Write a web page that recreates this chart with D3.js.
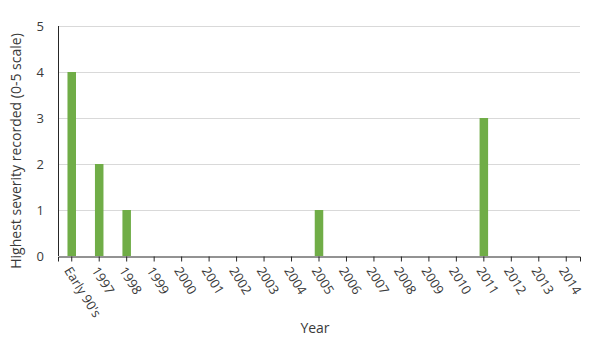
<!DOCTYPE html>
<html>
<head>
<script src="https://d3js.org/d3.v7.min.js"></script>
<style>
  body { margin: 0; background: #fff; }
  text { font-family: "Open Sans", "Liberation Sans", sans-serif; fill: #3a3a3a; }
</style>
</head>
<body>
<div id="chart"></div>
<script>
const years = ["Early 90's", "1997", "1998", "1999", "2000", "2001", "2002", "2003", "2004",
  "2005", "2006", "2007", "2008", "2009", "2010", "2011", "2012", "2013", "2014"];
const severity = [4, 2, 1, 0, 0, 0, 0, 0, 0, 1, 0, 0, 0, 0, 0, 3, 0, 0, 0];
const yTicks = [0, 1, 2, 3, 4, 5];

const W = 600, H = 342;
const plotLeft = 58, plotRight = 580, plotTop = 26, plotBottom = 256;

const svg = d3.select("#chart").append("svg")
  .attr("width", W).attr("height", H);

const x = d3.scaleBand().domain(years).range([plotLeft, plotRight]).paddingInner(0.69).paddingOuter(0.345);
const xc = d3.scaleBand().domain(years).range([plotLeft, plotRight]);
const y = d3.scaleLinear().domain([0, 5]).range([plotBottom, plotTop]);

// gridlines
svg.append("g").selectAll("line").data(yTicks.slice(1)).enter().append("line")
  .attr("x1", plotLeft).attr("x2", plotRight)
  .attr("y1", d => Math.round(y(d)) + 0.5).attr("y2", d => Math.round(y(d)) + 0.5)
  .attr("stroke", "#d9d9d9");

// y tick labels
svg.append("g").selectAll("text").data(yTicks).enter().append("text")
  .attr("x", 44).attr("y", d => y(d)).attr("dy", "0.35em")
  .attr("text-anchor", "end").style("font-size", "13px")
  .text(d => d);

// bars
svg.append("g").selectAll("rect").data(years).enter().append("rect")
  .attr("x", d => x(d))
  .attr("y", (d, i) => y(severity[i]))
  .attr("width", x.bandwidth())
  .attr("height", (d, i) => plotBottom - y(severity[i]))
  .attr("fill", "#70ad47");

// axes lines
svg.append("line").attr("x1", plotLeft + 0.5).attr("x2", plotLeft + 0.5).attr("y1", plotTop).attr("y2", plotBottom)
  .attr("stroke", "#262626");
const xAxis = d3.axisBottom(xc).tickSize(5).tickSizeOuter(5).tickFormat("");
const gx = svg.append("g").attr("transform", `translate(0,${plotBottom + 0.5})`).call(xAxis);
gx.selectAll("path, line").attr("stroke", "#262626");

// rotated category labels
svg.append("g").selectAll("text").data(years).enter().append("text")
  .attr("transform", d => `translate(${xc(d) + xc.bandwidth() / 2 - 4},${plotBottom + 12}) rotate(58)`)
  .attr("dy", "0.35em")
  .style("font-size", "13px")
  .text(d => d);

// axis titles
svg.append("text")
  .attr("transform", `translate(16,${(plotTop + plotBottom) / 2 + 10}) rotate(-90)`)
  .attr("text-anchor", "middle").attr("dy", "0.35em")
  .style("font-size", "14px")
  .text("Highest severity recorded (0-5 scale)");

svg.append("text")
  .attr("x", 315).attr("y", 333)
  .attr("text-anchor", "middle")
  .style("font-size", "14px")
  .text("Year");
</script>
</body>
</html>
